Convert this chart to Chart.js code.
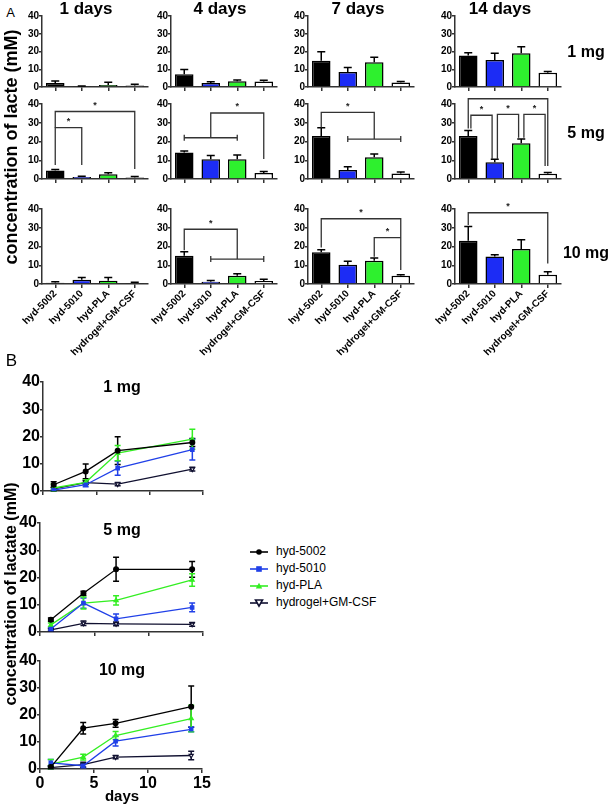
<!DOCTYPE html>
<html>
<head>
<meta charset="utf-8">
<script src="https://cdn.jsdelivr.net/npm/chart.js@4.4.0/dist/chart.umd.min.js"></script>
<style>
  body { margin: 0; width: 611px; height: 807px; position: relative; overflow: hidden; background: #fff;
         font-family: "Liberation Sans", Arial, sans-serif; }
  canvas { position: absolute; }
  .t { position: absolute; white-space: nowrap; line-height: 1; color: #000; }
</style>
</head>
<body>
<script>
// groups, days and doses
var groups = ['hyd-5002', 'hyd-5010', 'hyd-PLA', 'hydrogel+GM-CSF'];
var days = [1, 4, 7, 14];
var dayTitles = ['1 days', '4 days', '7 days', '14 days'];
var doses = ['1 mg', '5 mg', '10 mg'];
var yTicks = [0, 10, 20, 30, 40];
var xTicks = [0, 5, 10, 15];

// lactate (mM): one row per group, one column per day
var mean1mg = [[2.3, 7.2, 14.8, 17.8], [0.3, 2.3, 8.4, 15.2], [1.1, 3.2, 13.9, 19.0], [0.8, 3.1, 2.5, 8.0]];
var sd1mg   = [[1.1, 2.7, 5.1, 1.5],   [0.2, 0.7, 2.6, 3.8],  [1.6, 0.8, 2.8, 3.7],   [0.7, 0.7, 0.6, 0.7]];
var mean5mg = [[4.5, 14.2, 23.0, 23.0], [1.1, 10.6, 4.8, 9.0], [2.6, 10.6, 11.6, 19.1], [0.8, 3.2, 3.0, 2.8]];
var sd5mg   = [[0.6, 0.8, 4.4, 2.9],    [0.4, 1.9, 1.8, 1.6],  [0.7, 2.2, 1.7, 2.3],    [0.5, 0.8, 0.7, 0.7]];
var mean10mg = [[0.7, 15.1, 16.9, 23.1], [2.3, 1.2, 10.3, 14.7], [1.8, 4.4, 12.4, 18.7], [0.5, 1.6, 4.4, 5.0]];
var sd10mg   = [[0.5, 2.1, 1.4, 7.6],    [1.2, 0.7, 1.8, 0.9],   [1.7, 1.1, 1.5, 4.9],    [0.4, 0.9, 0.6, 1.6]];

// significance marks per day: [from, to, level] = group line, [from, to, level, footL, footR, star] = bracket
var sig1mg = [[], [], [], []];
var sig5mg = [
  [[0, 1, 27.4, 7.5, 7.5, 1], [0, 3, 36, 27.4, 5.3, 1]],
  [[0, 2, 22], [1, 3, 35.2, 22, 10.7, 1]],
  [[1, 3, 21.3], [0, 2, 35.5, 27.5, 21.3, 1]],
  [[0, 3, 42.8, 27, 7, 0], [0.1, 0.9, 34, 27, 10.5, 1], [1.1, 1.9, 34.5, 10.5, 22, 1], [2.1, 2.9, 34.5, 22, 7, 1]]
];
var sig10mg = [
  [],
  [[1, 3, 13.3], [0, 2, 29.2, 18, 13.3, 1]],
  [[0, 3, 34.8, 19.5, 7.5, 1], [2, 3, 24.7, 14.5, 24.7, 1]],
  [[0, 3, 38, 31.5, 11, 1]]
];

var means = [mean1mg, mean5mg, mean10mg];
var sds = [sd1mg, sd5mg, sd10mg];
var sigs = [sig1mg, sig5mg, sig10mg];

var FONT = '"Liberation Sans", Arial, sans-serif';
var barColors = ['#000000', '#1c2cf5', '#2ef02e', '#ffffff'];
var lineColors = ['#000000', '#2040e8', '#33ee22', '#101030'];
var pointFills = ['#000000', '#2040e8', '#33ee22', '#ffffff'];
var pointStyles = ['circle', 'rect', 'triangle', 'triangle'];
var pointRot = [0, 0, 0, 180];

function txt(s, x, y, size, bold, rot) {
  var d = document.createElement('div');
  d.className = 't';
  d.textContent = s;
  d.style.left = x + 'px';
  d.style.top = y + 'px';
  d.style.fontSize = size + 'px';
  d.style.fontWeight = bold ? 'bold' : 'normal';
  d.style.transform = 'translate(-50%,-50%)' + (rot ? ' rotate(-90deg)' : '');
  document.body.appendChild(d);
}

// canvas around a chart area, ext = room for axes and labels on each side
function addCanvas(area, ext) {
  var c = document.createElement('canvas');
  var w = Math.round(area.r - area.l + ext.l + ext.r);
  var h = Math.round(area.b - area.t + ext.t + ext.b);
  c.width = w; c.height = h;
  c.style.left = (area.l - ext.l) + 'px';
  c.style.top = (area.t - ext.t) + 'px';
  c.style.width = w + 'px';
  c.style.height = h + 'px';
  document.body.appendChild(c);
  return c;
}

function barErrors(sd, sig) {
  return {
    id: 'barErrors',
    afterDatasetsDraw: function (chart) {
      var ctx = chart.ctx, x = chart.scales.x, y = chart.scales.y;
      var ds = chart.data.datasets[0];
      ctx.save();
      ctx.strokeStyle = '#000';
      ctx.lineWidth = 1.5;
      chart.getDatasetMeta(0).data.forEach(function (bar, i) {
        var top = y.getPixelForValue(ds.data[i] + sd[i]);
        ctx.beginPath();
        ctx.moveTo(bar.x, bar.y); ctx.lineTo(bar.x, top);
        ctx.moveTo(bar.x - 4, top); ctx.lineTo(bar.x + 4, top);
        ctx.stroke();
      });
      ctx.strokeStyle = '#333';
      ctx.fillStyle = '#222';
      ctx.lineWidth = 1.3;
      ctx.font = 'bold 9px ' + FONT;
      ctx.textAlign = 'center';
      ctx.textBaseline = 'middle';
      sig.forEach(function (b) {
        var x1 = x.getPixelForValue(b[0]), x2 = x.getPixelForValue(b[1]), yt = y.getPixelForValue(b[2]);
        ctx.beginPath();
        if (b.length === 3) {
          ctx.moveTo(x1, yt); ctx.lineTo(x2, yt);
          ctx.moveTo(x1, yt - 3); ctx.lineTo(x1, yt + 3);
          ctx.moveTo(x2, yt - 3); ctx.lineTo(x2, yt + 3);
        } else {
          ctx.moveTo(x1, y.getPixelForValue(b[3])); ctx.lineTo(x1, yt);
          ctx.lineTo(x2, yt); ctx.lineTo(x2, y.getPixelForValue(b[4]));
        }
        ctx.stroke();
        if (b[5]) ctx.fillText('*', (x1 + x2) / 2, yt - 6);
      });
      ctx.restore();
    }
  };
}

function lineErrors(sd) {
  return {
    id: 'lineErrors',
    beforeDatasetsDraw: function (chart) {
      var ctx = chart.ctx, y = chart.scales.y;
      ctx.save();
      ctx.lineWidth = 1.5;
      chart.data.datasets.forEach(function (ds, k) {
        ctx.strokeStyle = ds.borderColor;
        chart.getDatasetMeta(k).data.forEach(function (pt, i) {
          var m = ds.data[i].y, e = sd[k][i];
          var hi = y.getPixelForValue(m + e), lo = y.getPixelForValue(Math.max(0, m - e));
          ctx.beginPath();
          ctx.moveTo(pt.x, lo); ctx.lineTo(pt.x, hi);
          ctx.moveTo(pt.x - 3, hi); ctx.lineTo(pt.x + 3, hi);
          ctx.moveTo(pt.x - 3, lo); ctx.lineTo(pt.x + 3, lo);
          ctx.stroke();
        });
      });
      ctx.restore();
    }
  };
}

function axisY(yW, size) {
  return {
    min: 0, max: 40,
    afterBuildTicks: function (s) { s.ticks = yTicks.map(function (v) { return { value: v }; }); },
    ticks: { color: '#000', padding: 0, font: { family: FONT, size: size, weight: 'bold' } },
    grid: { drawOnChartArea: false, tickLength: 3, color: '#333', lineWidth: 1.5 },
    border: { color: '#333', width: 1.5 },
    afterFit: function (s) { s.width = yW; s.paddingTop = 0; s.paddingBottom = 0; }
  };
}

// ---- panel A: bars ----
var colL = [42, 170.5, 307.5, 455];
var colR = [148, 276, 413, 560.5];
var rowT = [16, 104.3, 209.3];
var rowB = [86.7, 179.3, 284.3];

for (var r = 0; r < 3; r++) {
  for (var d = 0; d < 4; d++) {
    var last = r === 2;
    var yW = 20, xH = last ? 80 : 6;
    var ext = { l: yW + (last ? 40 : 4), r: 6, t: 14, b: xH };
    var area = { l: colL[d], r: colR[d], t: rowT[r], b: rowB[r] };
    var cv = addCanvas(area, ext);
    new Chart(cv.getContext('2d'), {
      type: 'bar',
      data: {
        labels: groups,
        datasets: [{
          data: means[r].map(function (g) { return g[d]; }),
          backgroundColor: barColors,
          borderColor: '#000',
          borderWidth: 1.5,
          barPercentage: 0.7,
          categoryPercentage: 1
        }]
      },
      options: {
        responsive: false, animation: false, devicePixelRatio: 1,
        layout: { padding: { left: ext.l - yW, right: ext.r, top: ext.t, bottom: 0 } },
        plugins: { legend: { display: false }, tooltip: { enabled: false } },
        scales: {
          x: {
            grid: { drawOnChartArea: false, tickLength: 4, offset: false, color: '#333', lineWidth: 1.5 },
            border: { color: '#333', width: 1.5 },
            ticks: { display: last, autoSkip: false, minRotation: 45, maxRotation: 45, padding: 0,
                     color: '#000', font: { family: FONT, size: 10, weight: 'bold' } },
            afterFit: (function (h) { return function (s) { s.height = h; s.paddingLeft = 0; s.paddingRight = 0; }; })(xH)
          },
          y: axisY(yW, 10)
        }
      },
      plugins: [barErrors(sds[r].map(function (g) { return g[d]; }), sigs[r][d])]
    });
  }
}

// ---- panel B: time courses ----
var areasB = [
  { l: 43, r: 203, t: 382, b: 491 },
  { l: 40, r: 203, t: 523, b: 632 },
  { l: 40, r: 202, t: 661, b: 769 }
];

areasB.forEach(function (area, r) {
  var last = r === 2;
  var yW = 22, xH = last ? 24 : 6;
  var ext = { l: 40, r: 14, t: 12, b: xH + 2 };
  var cv = addCanvas(area, ext);
  new Chart(cv.getContext('2d'), {
    type: 'line',
    data: {
      datasets: groups.map(function (g, k) {
        return {
          label: g,
          data: days.map(function (dd, i) { return { x: dd, y: means[r][k][i] }; }),
          borderColor: lineColors[k],
          backgroundColor: pointFills[k],
          pointBackgroundColor: pointFills[k],
          pointBorderColor: lineColors[k],
          pointBorderWidth: 1.2,
          pointStyle: pointStyles[k],
          pointRotation: pointRot[k],
          pointRadius: 2.4,
          borderWidth: 1.3,
          tension: 0
        };
      })
    },
    options: {
      responsive: false, animation: false, devicePixelRatio: 1,
      layout: { padding: { left: ext.l - yW, right: ext.r, top: ext.t, bottom: 2 } },
      plugins: { legend: { display: false }, tooltip: { enabled: false } },
      scales: {
        x: {
          type: 'linear', min: 0, max: 15,
          afterBuildTicks: function (s) { s.ticks = xTicks.map(function (v) { return { value: v }; }); },
          grid: { drawOnChartArea: false, tickLength: 4, color: '#333', lineWidth: 1.5 },
          border: { color: '#333', width: 1.5 },
          ticks: { display: last, padding: 1, color: '#000', font: { family: FONT, size: 16, weight: 'bold' } },
          afterFit: function (s) { s.height = xH; s.paddingLeft = 0; s.paddingRight = 0; }
        },
        y: axisY(yW, 16)
      }
    },
    plugins: [lineErrors(sds[r])]
  });
});

// ---- text ----
txt('A', 10.5, 12, 13, false);
txt('B', 11.5, 360, 17, false);
var titleX = [86, 220, 358, 500];
dayTitles.forEach(function (s, i) { txt(s, titleX[i], 7.5, 17, true); });
var doseY = [51.5, 133, 253];
doses.forEach(function (s, i) { txt(s, 586, doseY[i], 16, true); });
txt('concentration of lacte (mM)', 10.5, 147, 18, true, true);

var doseYB = [386.5, 530, 669.5];
doses.forEach(function (s, i) { txt(s, 122, doseYB[i], 16, true); });
txt('concentration of lactate (mM)', 11, 594, 16, true, true);
txt('days', 122, 795, 15, true);

// legend
var legendY = [552, 569, 586, 603];
var markers = [
  function (c) { return '<circle cx="10" cy="5" r="2.8" fill="' + c + '"/>'; },
  function (c) { return '<rect x="7.2" y="2.2" width="5.6" height="5.6" fill="' + c + '"/>'; },
  function (c) { return '<polygon points="10,1.8 13.2,7.6 6.8,7.6" fill="' + c + '"/>'; },
  function (c) { return '<polygon points="6.5,2 13.5,2 10,8.2" fill="#fff" stroke="' + c + '" stroke-width="1.6"/>'; }
];
groups.forEach(function (g, k) {
  var holder = document.createElement('div');
  holder.innerHTML = '<svg width="20" height="10" style="position:absolute;left:249px;top:' + (legendY[k] - 5) + 'px">' +
    '<line x1="1" y1="5" x2="19" y2="5" stroke="' + lineColors[k] + '" stroke-width="1.6"/>' +
    markers[k](lineColors[k]) + '</svg>';
  document.body.appendChild(holder.firstChild);
  var d = document.createElement('div');
  d.className = 't';
  d.textContent = g;
  d.style.left = '276px';
  d.style.top = (legendY[k] - 7) + 'px';
  d.style.fontSize = '12px';
  document.body.appendChild(d);
});
</script>
</body>
</html>
